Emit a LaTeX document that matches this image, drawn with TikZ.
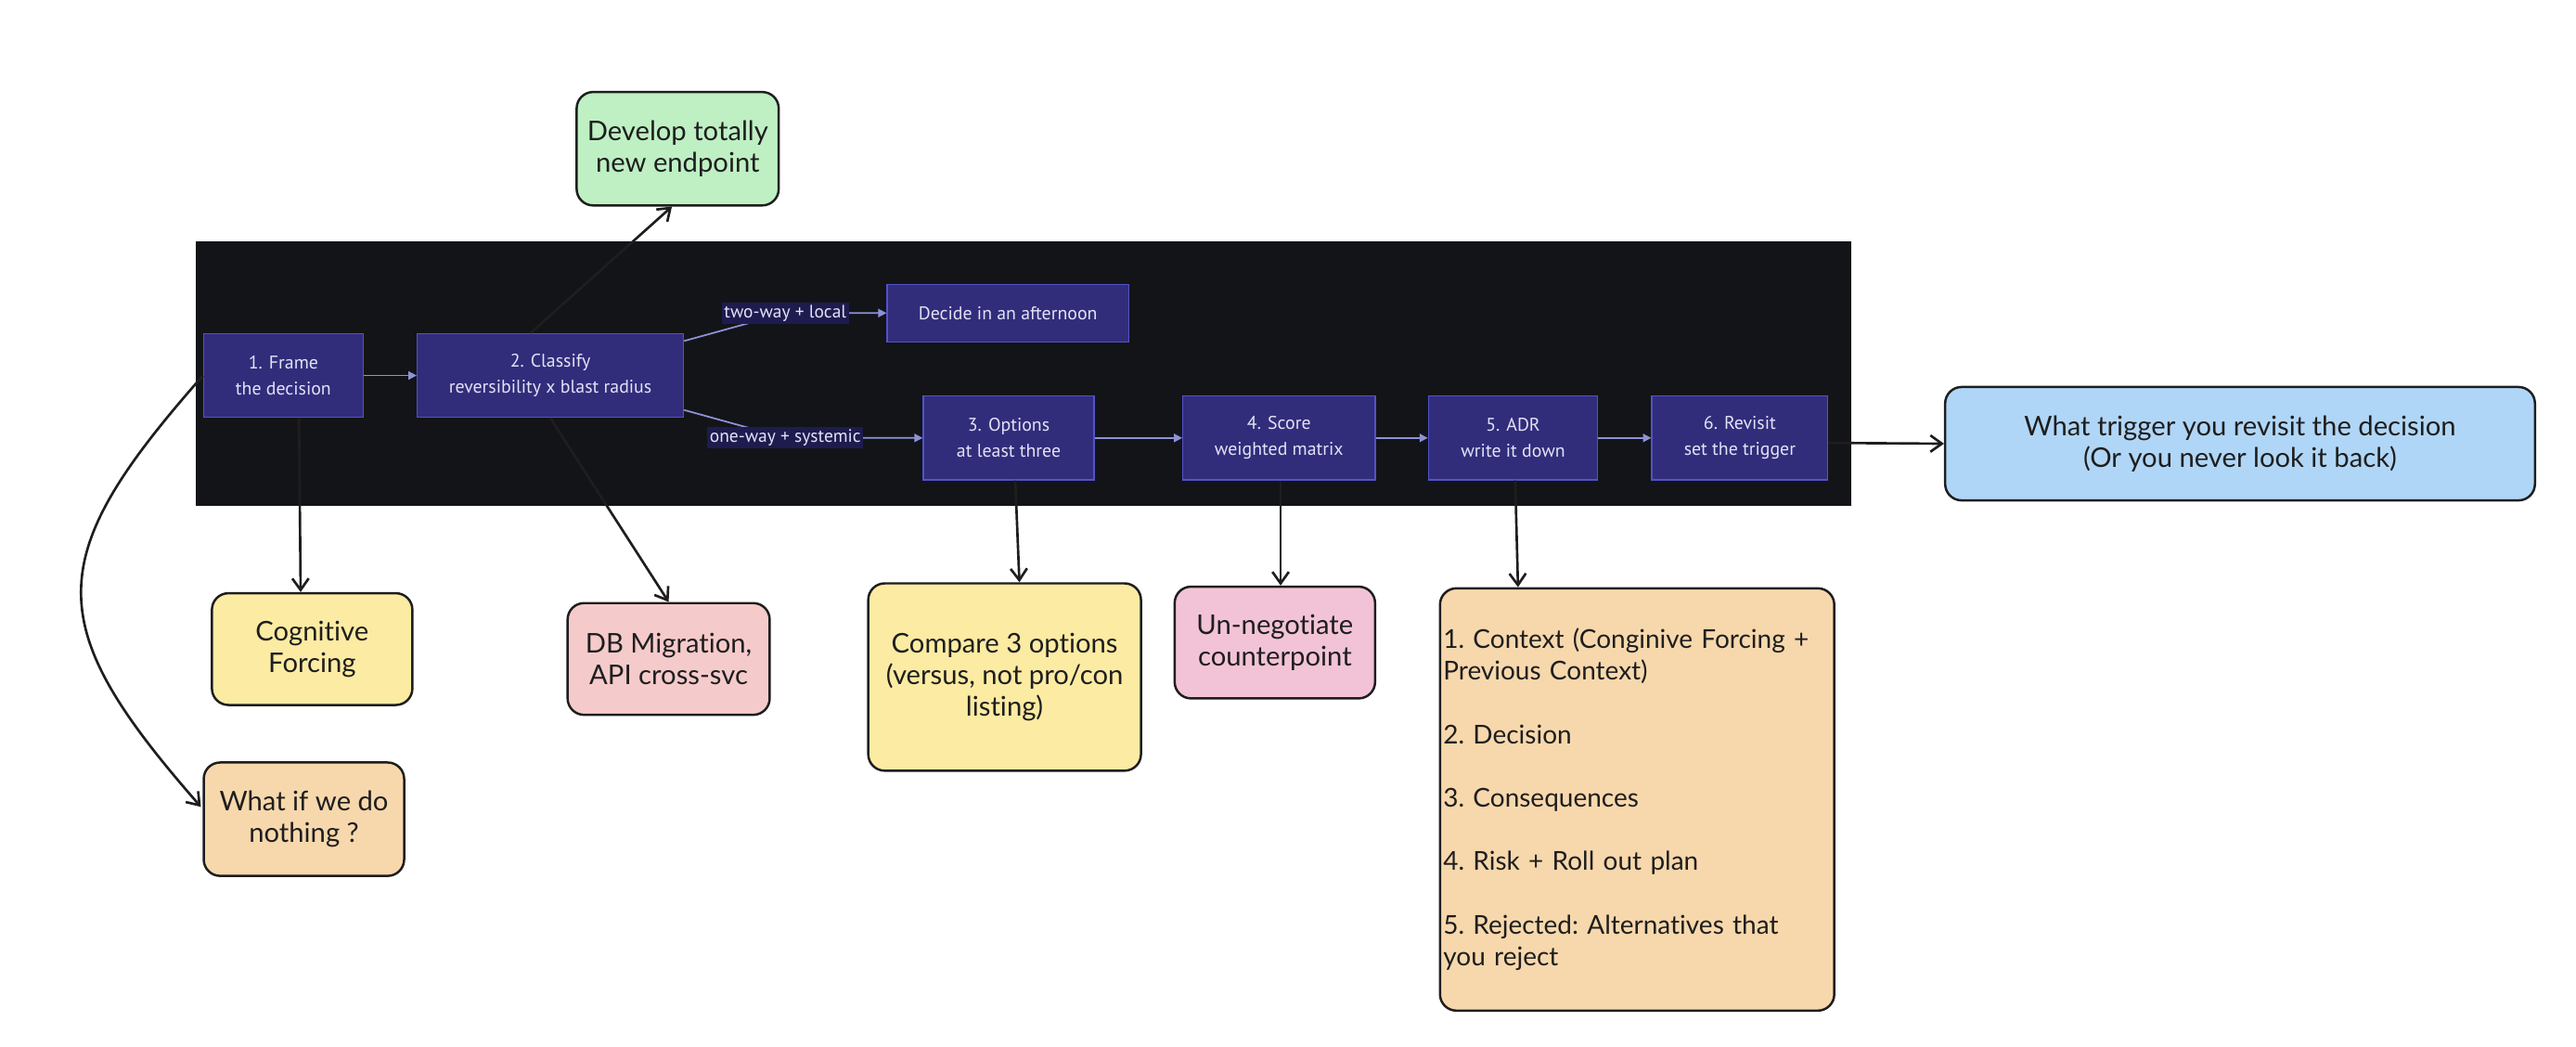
\documentclass[tikz,border=0pt]{standalone}
\usepackage{fontspec}
\usepackage{tikz}
\usetikzlibrary{calc,arrows.meta}
\setmainfont[Ligatures=NoCommon]{Lato}
\newfontfamily\mmfont{PT Sans}
\definecolor{mmbg}{HTML}{131418}
\definecolor{mmfill}{HTML}{312D7B}
\definecolor{mmedge}{HTML}{8D92D6}
\definecolor{mmline}{HTML}{5352C9}
\definecolor{mmlab}{HTML}{1E1B4F}
\definecolor{mmtext}{HTML}{E4E2F5}
\definecolor{ink}{HTML}{1E1E1E}
\definecolor{green}{HTML}{BEF0C3}
\definecolor{yellow}{HTML}{FCEBA2}
\definecolor{rose}{HTML}{F5CACB}
\definecolor{pink}{HTML}{F2C3D6}
\definecolor{sand}{HTML}{F7D8AC}
\definecolor{sky}{HTML}{B0D6F7}
\tikzset{
  mstep/.style={rectangle,draw=mmline,fill=mmfill,text=mmtext,line width=.8pt,inner sep=0pt,align=center,
    font=\mmfont\fontsize{11.2}{16}\selectfont},
  mlabel/.style={fill=mmlab,text=mmtext,inner sep=1.5pt,font=\mmfont\fontsize{11}{12}\selectfont},
  mflow/.style={draw=mmedge,line width=1pt,-{Triangle[length=5pt,width=5pt]}},
  note/.style={rectangle,rounded corners=10pt,draw=ink,line width=1.4pt,inner sep=0pt,align=center,text=ink,
    font=\frenchspacing\fontsize{16.5}{19.3}\selectfont},
  link/.style={draw=ink,line width=1.5pt,-{Straight Barb[length=7pt,width=10pt]}}
}
\begin{document}
\begin{tikzpicture}[x=1pt,y=-1pt]
\useasboundingbox[fill=white] (0,0) rectangle (1568,637);
\fill[mmbg] (119,147) rectangle (1127,308);
\node[mstep,minimum width=97pt,minimum height=51pt] (frame) at (172.5,228.5) {1. Frame\\the decision};
\node[mstep,minimum width=162pt,minimum height=51pt] (classify) at (335,228.5) {2. Classify\\reversibility x blast radius};
\node[mstep,minimum width=147pt,minimum height=35pt] (decide) at (613.5,190.5) {Decide in an afternoon};
\node[mstep,minimum width=104pt,minimum height=51pt] (options) at (614,266.5) {3. Options\\at least three};
\node[mstep,minimum width=117pt,minimum height=51pt] (score) at (778.5,266.5) {4. Score\\weighted matrix};
\node[mstep,minimum width=103pt,minimum height=51pt] (adr) at (921,266.5) {5. ADR\\write it down};
\node[mstep,minimum width=107pt,minimum height=51pt] (revisit) at (1059,266.5) {6. Revisit\\set the trigger};
\coordinate (twowayAt) at (478,190.5);
\coordinate (onewayAt) at (478,266.5);
\draw[mflow] (frame) -- (classify);
\draw[mflow] ($(classify.east)+(0,-21)$) -- (twowayAt) -- (decide);
\draw[mflow] ($(classify.east)+(0,21)$) -- (onewayAt) -- (options);
\foreach \a/\b in {options/score,score/adr,adr/revisit}
  \draw[mflow] (\a) -- (\b);
\node[mlabel] (twoway) at (twowayAt) {two-way + local};
\node[mlabel] (oneway) at (onewayAt) {one-way + systemic};

\node[note,fill=green,minimum width=123pt,minimum height=69pt] (develop) at (412.5,90.5) {Develop totally\\new endpoint};
\node[note,fill=yellow,minimum width=122pt,minimum height=68pt] (cognitive) at (190,395) {Cognitive\\Forcing};
\node[note,fill=rose,minimum width=123pt,minimum height=68pt] (db) at (407,401) {DB Migration,\\API cross-svc};
\node[note,fill=sand,minimum width=122pt,minimum height=69pt] (whatif) at (185,498.5) {What if we do\\nothing ?};
\node[note,fill=yellow,minimum width=166pt,minimum height=114pt] (compare) at (611.5,412) {Compare 3 options\\(versus, not pro/con\\listing)};
\node[note,fill=pink,minimum width=122pt,minimum height=68pt] (counter) at (776,391) {Un-negotiate\\counterpoint};
\node[note,fill=sand,minimum height=257pt,text width=236pt,inner xsep=2pt,align=left,
  font=\frenchspacing\fontsize{15.8}{19.3}\selectfont] (adrnote) at (996.5,486.5)
  {1. Context (Conginive Forcing +\\Previous Context)\\[19.3pt]2. Decision\\[19.3pt]3. Consequences\\[19.3pt]4. Risk + Roll out plan\\[19.3pt]5. Rejected: Alternatives that\\you reject};
\node[note,fill=sky,minimum width=359pt,minimum height=69pt] (trigger) at (1363.5,270) {What trigger you revisit the decision\\(Or you never look it back)};

\draw[link] ($(classify.north)+(-12,0)$) -- ($(develop.south)+(-3.5,0)$);
\draw[link] ($(frame.south)+(9.5,0)$) -- ($(cognitive.north)+(-7,0)$);
\draw[link] (classify.south) -- (db.north);
\draw[link] (frame.west) .. controls (25,340) and (25,380) .. ($(whatif.west)+(-1,-7.5)$);
\draw[link] ($(options.south)+(4,0)$) -- ($(compare.north)+(9,0)$);
\draw[link] ($(score.south)+(1,0)$) -- ($(counter.north)+(3.5,0)$);
\draw[link] ($(adr.south)+(1.3,0)$) -- ($(adrnote.north)+(-72.5,0)$);
\draw[link] ($(revisit.east)+(0,3)$) -- (trigger.west);
\end{tikzpicture}
\end{document}
